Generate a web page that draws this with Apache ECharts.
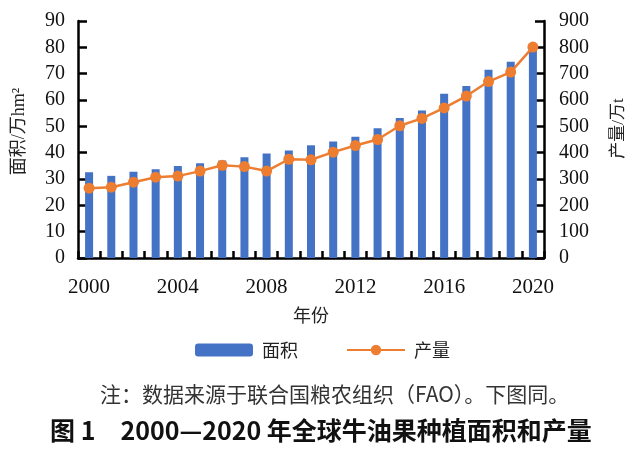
<!DOCTYPE html>
<html>
<head>
<meta charset="utf-8">
<script src="https://cdn.jsdelivr.net/npm/echarts@6/dist/echarts.min.js"></script>
<style>html,body{margin:0;padding:0;background:#fff}#c{width:640px;height:449px}</style>
</head>
<body>
<div id="c"></div>
<script>
const years = ['2000','2001','2002','2003','2004','2005','2006','2007','2008','2009','2010','2011','2012','2013','2014','2015','2016','2017','2018','2019','2020'];
const area = [32.6, 31.2, 32.8, 33.7, 34.9, 36.0, 37.0, 38.3, 39.7, 40.8, 42.8, 44.2, 46.0, 49.3, 53.2, 56.0, 62.4, 65.3, 71.5, 74.5, 80.0];
const production = [265, 269, 288, 307, 311, 330, 352, 347, 330, 375, 373, 402, 427, 450, 502, 530, 570, 615, 670, 706, 801];
const leftTicks = [0, 10, 20, 30, 40, 50, 60, 70, 80, 90];
const rightTicks = [0, 100, 200, 300, 400, 500, 600, 700, 800, 900];
const seriesNames = ['面积', '产量'];
const xName = '年份';
const leftName = '面积/万hm²';
const rightName = '产量/万t';
const noteText = '注：数据来源于联合国粮农组织（FAO）。下图同。';
const titleText = '图 1　2000—2020 年全球牛油果种植面积和产量';

const serif = '"Liberation Serif", "Noto Sans CJK SC", serif';
const cjk = '"Noto Sans CJK SC", sans-serif';
const chart = echarts.init(document.getElementById('c'), null, {renderer: 'canvas'});
const axisLine = {show: true, lineStyle: {color: '#000', width: 2.5}};
chart.setOption({
  animation: false,
  grid: {left: 78, right: 96, top: 21, bottom: 191, containLabel: false},
  legend: {
    data: seriesNames,
    left: 190, top: 336,
    itemWidth: 58, itemHeight: 13, itemGap: 48,
    textStyle: {fontFamily: cjk, fontSize: 18, color: '#222', padding: [0, 0, 0, 4]}
  },
  xAxis: {
    type: 'category', data: years, boundaryGap: true,
    name: xName, nameLocation: 'middle', nameGap: 48,
    nameTextStyle: {fontFamily: cjk, fontSize: 18, color: '#222'},
    axisLine: axisLine,
    axisTick: {show: true, inside: true, length: 7, interval: 0, lineStyle: {color: '#000', width: 2.5}},
    axisLabel: {interval: 3, fontFamily: serif, fontSize: 21, color: '#111', margin: 19},
    splitLine: {show: false}
  },
  yAxis: [{
    type: 'value', min: leftTicks[0], max: leftTicks[leftTicks.length - 1], interval: 10,
    name: leftName, nameLocation: 'middle', nameGap: 50, nameRotate: 90,
    nameTextStyle: {fontFamily: serif, fontSize: 18, color: '#222', padding: [0, 0, 0, 16]},
    axisLine: axisLine,
    axisTick: {show: true, inside: true, length: 9, lineStyle: {color: '#000', width: 2.5}},
    axisLabel: {fontFamily: serif, fontSize: 20, color: '#111', margin: 13},
    splitLine: {show: false}
  }, {
    type: 'value', min: rightTicks[0], max: rightTicks[rightTicks.length - 1], interval: 100,
    name: rightName, nameLocation: 'middle', nameGap: 66, nameRotate: 90,
    nameTextStyle: {fontFamily: serif, fontSize: 17, color: '#222', padding: [0, 0, 0, 22]},
    axisLine: axisLine,
    axisTick: {show: true, inside: true, length: 9, lineStyle: {color: '#000', width: 2.5}},
    axisLabel: {fontFamily: serif, fontSize: 20, color: '#111', margin: 15},
    splitLine: {show: false}
  }],
  series: [{
    name: seriesNames[0], type: 'bar', data: area, yAxisIndex: 0,
    barWidth: 8, itemStyle: {color: '#4472C4'}
  }, {
    name: seriesNames[1], type: 'line', data: production, yAxisIndex: 1,
    symbol: 'circle', symbolSize: 11,
    lineStyle: {color: '#ED7D31', width: 2.5},
    itemStyle: {color: '#ED7D31'}
  }],
  graphic: [{
    type: 'text', left: 100, top: 384,
    style: {text: noteText, font: '21px "Noto Sans CJK SC", sans-serif', fill: '#333'}
  }, {
    type: 'text', left: 50, top: 418,
    style: {text: titleText, font: 'bold 25px "Noto Sans CJK SC", sans-serif', fill: '#111'}
  }]
});
</script>
</body>
</html>
